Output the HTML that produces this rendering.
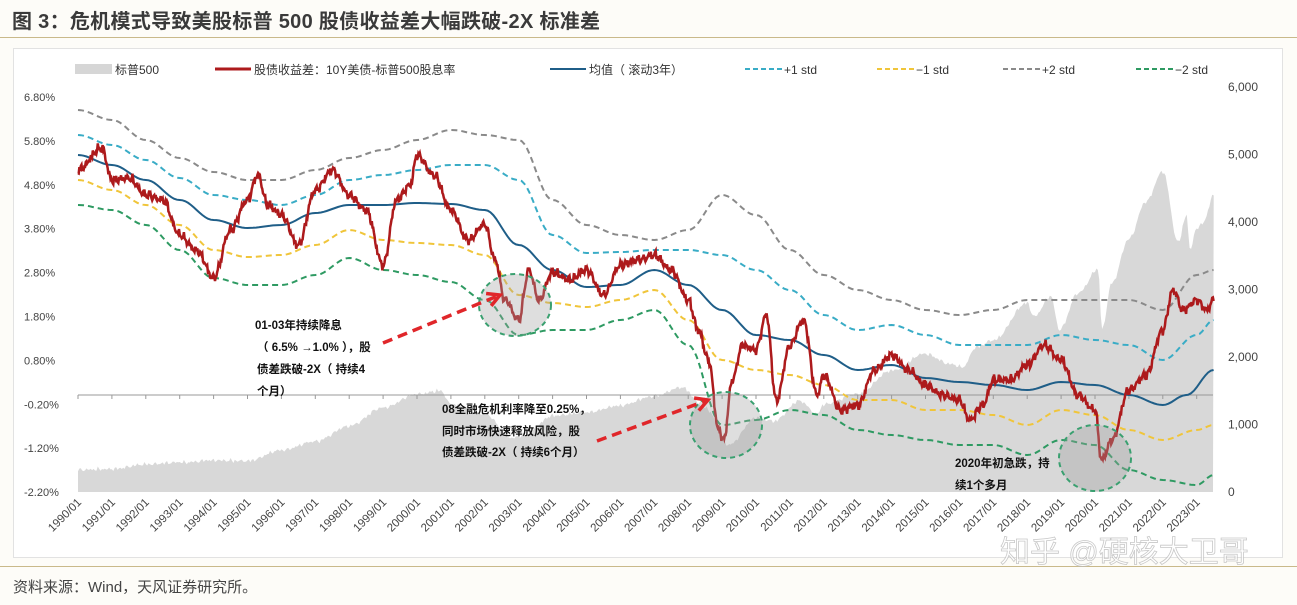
<!DOCTYPE html>
<html><head><meta charset="utf-8">
<style>
html,body{margin:0;padding:0;background:#fdfcf8;}
body{width:1297px;height:605px;position:relative;overflow:hidden;font-family:"Liberation Sans","Noto Sans CJK SC",sans-serif;}
.title{position:absolute;left:12px;top:5px;font-size:20px;font-weight:bold;color:#3a3a3a;letter-spacing:0.3px;}
.hl{position:absolute;left:0;width:1297px;height:1px;background:#c9b98a;}
.box{position:absolute;left:13px;top:48px;width:1268px;height:508px;background:#fff;border:1px solid #e2e2e2;}
.foot{position:absolute;left:13px;top:576px;font-size:15px;color:#444;}
svg{position:absolute;left:0;top:0;}
</style></head><body>
<div class="title">图 3：危机模式导致美股标普 500 股债收益差大幅跌破-2X 标准差</div>
<div class="hl" style="top:37px"></div>
<div class="box"></div>
<div class="hl" style="top:566px"></div>
<div class="foot">资料来源：Wind，天风证券研究所。</div>
<svg id="s" width="1297" height="605" xmlns="http://www.w3.org/2000/svg" font-family="Liberation Sans, Noto Sans CJK SC, sans-serif"></svg>
<script>
var X=function(t){return 78+(t-1990)*33.9;};
function interp(pts,t){for(var i=0;i<pts.length-1;i++){if(t<=pts[i+1][0]){var a=pts[i],b=pts[i+1];var f=(t-a[0])/(b[0]-a[0]);f=(1-Math.cos(f*Math.PI))/2;return a[1]+(b[1]-a[1])*f;}}return pts[pts.length-1][1];}
function path(pts,step,noise){var d='';for(var t=1990;t<=2023.5001;t+=step){var y=interp(pts,t);if(noise){y+=noise*(0.8*Math.sin(t*37.1)+0.6*Math.sin(t*91.7+1)+0.5*Math.sin(t*173.3+2)+0.4*Math.sin(t*251.9+0.7)+0.3*Math.sin(t*19.3*t%7));}d+=(d?'L':'M')+X(t).toFixed(1)+','+y.toFixed(1);}return d;}
var red=[[1990,170],[1990.7,148],[1991,180],[1991.5,178],[1992,195],[1992.5,200],[1993,235],[1993.5,250],[1994,278],[1994.5,230],[1995,200],[1995.3,175],[1995.6,205],[1996,215],[1996.5,245],[1997,190],[1997.5,170],[1998,195],[1998.5,210],[1999,265],[1999.4,200],[1999.8,185],[2000,155],[2000.5,175],[2001,210],[2001.5,240],[2002,225],[2002.3,260],[2002.6,300],[2003,320],[2003.3,270],[2003.6,300],[2004,272],[2004.5,280],[2005,270],[2005.5,295],[2006,265],[2006.5,260],[2007,255],[2007.5,270],[2008,300],[2008.3,330],[2008.6,360],[2008.9,430],[2009.05,440],[2009.3,380],[2009.6,345],[2010,350],[2010.3,315],[2010.6,400],[2011,345],[2011.4,320],[2011.8,395],[2012,375],[2012.5,410],[2013,405],[2013.5,370],[2014,355],[2014.5,370],[2015,385],[2015.5,395],[2016,400],[2016.3,420],[2016.7,405],[2017,380],[2017.5,380],[2018,365],[2018.5,345],[2019,360],[2019.5,395],[2020,410],[2020.2,460],[2020.5,440],[2021,390],[2021.5,375],[2022,330],[2022.3,290],[2022.6,310],[2023,300],[2023.3,310],[2023.5,300]];
var blue=[[1990,155],[1991,165],[1992,180],[1993,200],[1994,220],[1995,228],[1996,225],[1997,213],[1998,205],[1999,205],[2000,203],[2001,204],[2002,210],[2003,245],[2004,270],[2005,287],[2006,285],[2007,270],[2008,285],[2009,310],[2010,335],[2011,340],[2012,355],[2013,370],[2014,365],[2015,378],[2016,382],[2017,385],[2018,390],[2019,382],[2020,385],[2021,395],[2022,405],[2022.7,395],[2023.5,370]];
var cyan=[[1990,135],[1991,145],[1992,160],[1993,178],[1994,195],[1995,200],[1996,205],[1997,195],[1998,180],[1999,175],[2000,170],[2001,165],[2002,165],[2003,180],[2004,235],[2005,253],[2006,252],[2007,250],[2008,250],[2009,255],[2010,270],[2011,290],[2012,315],[2013,330],[2014,325],[2015,335],[2016,345],[2017,345],[2018,345],[2019,335],[2020,340],[2021,345],[2022,360],[2023,335],[2023.5,320]];
var gray=[[1990,110],[1991,120],[1992,140],[1993,158],[1994,172],[1995,180],[1996,180],[1997,170],[1998,158],[1999,150],[2000,140],[2001,130],[2002,135],[2003,140],[2004,200],[2005,225],[2006,235],[2007,240],[2008,230],[2009,195],[2010,215],[2011,250],[2012,275],[2013,290],[2014,300],[2015,310],[2016,315],[2017,310],[2018,300],[2019,300],[2020,300],[2021,300],[2022,310],[2023,275],[2023.5,270]];
var yel=[[1990,180],[1991,190],[1992,205],[1993,225],[1994,250],[1995,257],[1996,255],[1997,245],[1998,230],[1999,240],[2000,243],[2001,245],[2002,255],[2003,295],[2004,303],[2005,307],[2006,300],[2007,290],[2008,320],[2009,360],[2010,370],[2011,375],[2012,385],[2013,400],[2014,400],[2015,410],[2016,410],[2017,415],[2018,425],[2019,410],[2020,415],[2021,430],[2022,440],[2023,430],[2023.5,425]];
var grn=[[1990,205],[1991,210],[1992,225],[1993,250],[1994,278],[1995,285],[1996,285],[1997,275],[1998,258],[1999,270],[2000,275],[2001,282],[2002,300],[2003,335],[2004,330],[2005,330],[2006,320],[2007,310],[2008,345],[2009,425],[2010,420],[2011,410],[2012,415],[2013,430],[2014,435],[2015,440],[2016,445],[2017,445],[2018,455],[2019,440],[2020,445],[2021,470],[2022,480],[2023,485],[2023.5,475]];
var sp=[[1990,330],[1991,340],[1992,410],[1993,440],[1994,470],[1995,460],[1996,620],[1997,750],[1998,980],[1999,1250],[2000,1450],[2000.7,1500],[2001,1300],[2002,1150],[2002.8,800],[2003.2,850],[2004,1130],[2005,1180],[2006,1280],[2007,1420],[2007.8,1550],[2008.5,1250],[2009.2,700],[2010,1100],[2010.5,1050],[2011.3,1350],[2011.8,1150],[2012,1300],[2013,1450],[2014,1800],[2015,2050],[2015.7,1900],[2016.1,1850],[2016.5,2150],[2017,2250],[2018,2800],[2018.2,2600],[2018.7,2900],[2018.95,2400],[2019.5,2950],[2020.1,3300],[2020.2,2400],[2020.5,3100],[2021,3750],[2021.5,4300],[2022,4750],[2022.45,3700],[2022.7,4100],[2022.8,3600],[2023,3900],[2023.2,4000],[2023.5,4400]];
var spy=sp.map(function(p){return [p[0],492-p[1]*0.0675];});
var h='';
var ad='M78,492'+path(spy,1/24,1.2).replace(/^M/,'L')+'L1213,492Z';
h+='<path d="'+ad+'" fill="#d8d8d8"/>';
h+='<line x1="78" y1="395" x2="1213" y2="395" stroke="#999" stroke-width="1"/>';
for(var y=1990;y<=2023;y++){h+='<line x1="'+X(y)+'" y1="395" x2="'+X(y)+'" y2="399" stroke="#999"/>';}
function ds(p,c,w,da){h+='<path d="'+path(p,1/12,0)+'" fill="none" stroke="'+c+'" stroke-width="'+w+'"'+(da?' stroke-dasharray="'+da+'"':'')+'/>';}
ds(gray,'#8a8a8a',2,'6,4');ds(cyan,'#39acc6',2,'6,4');ds(yel,'#f0c53a',2,'6,4');ds(grn,'#2e9a62',2,'6,4');ds(blue,'#1f5e88',2,null);
h+='<path d="'+path(red,1/48,2.6)+'" fill="none" stroke="#ad1a1c" stroke-width="2.5"/>';
[[515,305,36,31],[726,425,36,33],[1095,458,36,33]].forEach(function(e){h+='<ellipse cx="'+e[0]+'" cy="'+e[1]+'" rx="'+e[2]+'" ry="'+e[3]+'" fill="rgba(160,160,160,0.35)" stroke="#3aa070" stroke-width="2" stroke-dasharray="5,4"/>';});
function arr(x1,y1,x2,y2){h+='<line x1="'+x1+'" y1="'+y1+'" x2="'+x2+'" y2="'+y2+'" stroke="#e0262a" stroke-width="3.5" stroke-dasharray="10,6"/>';var a=Math.atan2(y2-y1,x2-x1);var p=function(r,o){return (x2-r*Math.cos(a+o)).toFixed(1)+','+(y2-r*Math.sin(a+o)).toFixed(1);};h+='<polyline points="'+p(14,0.5)+' '+x2+','+y2+' '+p(14,-0.5)+'" fill="none" stroke="#e0262a" stroke-width="3.5"/>';}
arr(383,343,500,295);arr(597,441,708,400);
function tx(x,y,s){h+='<text x="'+x+'" y="'+y+'" font-size="11.5" font-weight="bold" fill="#111">'+s+'</text>';}
tx(255,329,'01-03年持续降息');tx(257,351,'（ 6.5% →1.0% ），股');tx(257,373,'债差跌破-2X（ 持续4');tx(257,395,'个月）');
tx(442,413,'08全融危机利率降至0.25%，');tx(442,435,'同时市场快速释放风险，股');tx(442,456,'债差跌破-2X（ 持续6个月）');
tx(955,467,'2020年初急跌，持');tx(955,489,'续1个多月');
var L=['6.80%','5.80%','4.80%','3.80%','2.80%','1.80%','0.80%','-0.20%','-1.20%','-2.20%'];
L.forEach(function(s,i){h+='<text x="24" y="'+(101+i*43.9)+'" font-size="11" fill="#444">'+s+'</text>';});
['6,000','5,000','4,000','3,000','2,000','1,000','0'].forEach(function(s,i){h+='<text x="1228" y="'+(91+i*67.5)+'" font-size="12" fill="#444">'+s+'</text>';});
for(var y=1990;y<=2023;y++){h+='<text transform="translate('+(X(y)+4)+',503) rotate(-45)" text-anchor="end" font-size="11.5" fill="#444">'+y+'/01</text>';}
h+='<rect x="75" y="64" width="37" height="10" fill="#d6d6d6"/><text x="115" y="74" font-size="12" fill="#333">标普500</text>';
h+='<line x1="215" y1="69" x2="251" y2="69" stroke="#ad1a1c" stroke-width="3"/><text x="254" y="74" font-size="12" fill="#333">股债收益差：10Y美债-标普500股息率</text>';
h+='<line x1="550" y1="69" x2="586" y2="69" stroke="#1f5e88" stroke-width="2"/><text x="589" y="74" font-size="12" fill="#333">均值（ 滚动3年）</text>';
[[745,'#39acc6','+1 std'],[877,'#f0c53a','−1 std'],[1003,'#8a8a8a','+2 std'],[1136,'#2e9a62','−2 std']].forEach(function(l){h+='<line x1="'+l[0]+'" y1="69" x2="'+(l[0]+37)+'" y2="69" stroke="'+l[1]+'" stroke-width="2" stroke-dasharray="5,3"/><text x="'+(l[0]+39)+'" y="74" font-size="12" fill="#333">'+l[2]+'</text>';});
h+='<text x="1000" y="562" font-size="30" fill="#ffffff" stroke="#bbb" stroke-width="0.8" opacity="0.8">知乎 @硬核大卫哥</text>';
document.getElementById('s').innerHTML=h;
</script>
</body></html>
